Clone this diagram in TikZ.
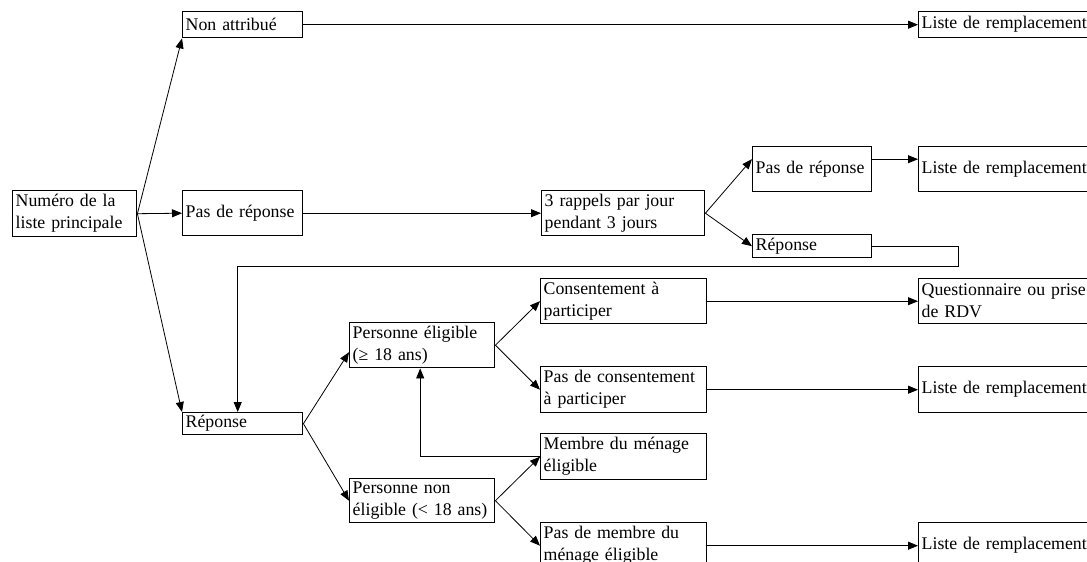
\documentclass[tikz,border=0pt]{standalone}
\usepackage{fontspec}
\setmainfont{Liberation Serif}
\usetikzlibrary{arrows.meta}
\begin{document}
\begin{tikzpicture}[x=1pt,y=-1pt,
  box/.style={draw, line width=1.4pt, anchor=north west, align=left, inner xsep=3pt, inner ysep=0pt,
    font=\fontsize{17.8}{22}\selectfont},
  conn/.style={line width=0.8pt, -{Triangle[length=10pt,width=8pt]}},
  line/.style={line width=0.8pt}]
\useasboundingbox (0,0) rectangle (1087,562);
\clip (0,0) rectangle (1087,562);
\fill[white] (0,0) rectangle (1087,562);
% nodes
\node[box, text width=118pt, minimum height=46pt] (num) at (12,190) {Numéro de la\\liste principale};
\node[box, text width=114pt, minimum height=26pt] (nonattr) at (182,11) {Non attribué};
\node[box, text width=114pt, minimum height=45pt] (pasrep) at (182,190) {Pas de réponse};
\node[box, text width=114pt, minimum height=22pt] (rep) at (182,412) {Réponse};
\node[box, text width=157pt, minimum height=45pt] (rappels) at (541,190) {3 rappels par jour\\pendant 3 jours};
\node[box, text width=113pt, minimum height=45pt] (pasrep2) at (752,146) {Pas de réponse};
\node[box, text width=113pt, minimum height=23pt] (rep2) at (752,234) {Réponse};
\node[box, text width=174pt, minimum height=26pt] (liste1) at (918,11) {Liste de remplacement};
\node[box, text width=174pt, minimum height=45pt] (liste2) at (918,146) {Liste de remplacement};
\node[box, text width=139pt, minimum height=45pt] (elig) at (349,322) {Personne éligible\\(≥ 18 ans)};
\node[box, text width=139pt, minimum height=44pt] (nonelig) at (349,478) {Personne non\\éligible (< 18 ans)};
\node[box, text width=160pt, minimum height=45pt] (consent) at (540,278) {Consentement à\\participer};
\node[box, text width=160pt, minimum height=46pt] (pascons) at (540,366) {Pas de consentement\\à participer};
\node[box, text width=160pt, minimum height=46pt] (membre) at (540,433) {Membre du ménage\\éligible};
\node[box, text width=160pt, minimum height=46pt] (pasmembre) at (540,522) {Pas de membre du\\ménage éligible};
\node[box, text width=174pt, minimum height=45pt] (quest) at (918,278) {Questionnaire ou prise\\de RDV};
\node[box, text width=174pt, minimum height=46pt] (liste3) at (918,366) {Liste de remplacement};
\node[box, text width=174pt, minimum height=46pt] (liste4) at (918,522) {Liste de remplacement};
% connectors
\draw[conn] (num.east) -- (nonattr.south west);
\draw[conn] (num.east) -- (pasrep.west);
\draw[conn] (num.east) -- (rep.north west);
\draw[conn] (nonattr.east) -- (liste1.west);
\draw[conn] (pasrep.east) -- (rappels.west);
\draw[conn] (rappels.east) -- ([yshift=10pt]pasrep2.west);
\draw[conn] (rappels.east) -- (rep2.west);
\draw[conn] ([yshift=10pt]pasrep2.east) -- ([yshift=10pt]pasrep2.east -| liste2.west);
\coordinate (r1) at (958,266);
\draw[conn] (rep2.east) -| (r1) -| ([xshift=-5pt]rep.north);
\draw[conn] (rep.east) -- ([yshift=-7pt]elig.west);
\draw[conn] (rep.east) -- (nonelig.west);
\draw[conn] (elig.east) -- (consent.west);
\draw[conn] (elig.east) -- (pascons.west);
\draw[conn] (nonelig.east) -- (membre.west);
\draw[conn] (nonelig.east) -- (pasmembre.west);
\draw[conn] (membre.west) -| ([xshift=-2pt]elig.south);
\draw[conn] (consent.east) -- (quest.west);
\draw[conn] (pascons.east) -- (liste3.west);
\draw[conn] (pasmembre.east) -- (liste4.west);
\end{tikzpicture}
\end{document}
